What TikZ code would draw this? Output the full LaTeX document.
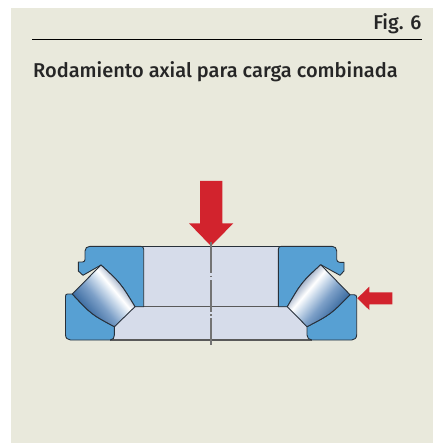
\documentclass[tikz,border=0pt]{standalone}
\usepackage{fontspec}
\setmainfont{Fira Sans}[BoldFont={Fira Sans Medium}]
\definecolor{rollerdark}{RGB}{50,100,155}
\definecolor{rollermid}{RGB}{125,160,200}
\definecolor{rollerlight}{RGB}{205,220,236}
\definecolor{rollergray}{RGB}{130,150,182}
\definecolor{panelbg}{RGB}{233,233,220}
\definecolor{ringblue}{RGB}{87,160,211}
\definecolor{shaftlight}{RGB}{214,220,234}
\definecolor{loadred}{RGB}{210,35,45}
\definecolor{edge}{RGB}{40,48,58}
\pgfdeclarehorizontalshading{rollershade}{100bp}{color(0bp)=(rollerdark); color(25bp)=(rollerdark); color(43bp)=(rollermid); color(55bp)=(rollerlight); color(62bp)=(white); color(75bp)=(rollergray); color(100bp)=(rollergray)}
\tikzset{
  edgeline/.style={draw=edge,line width=0.9pt,line join=round},
  ringpart/.style={edgeline,fill=ringblue},
  loadarrow/.style={fill=loadred,draw=none},
  axisline/.style={draw=black!55,line width=1.1pt},
  titletext/.style={font=\fontsize{20}{24}\selectfont\bfseries,text=black!85,inner sep=0pt}
}
\begin{document}
\begin{tikzpicture}[x=1pt,y=-1pt]
\useasboundingbox (0,0) rectangle (433,443);
\fill[white] (0,0) rectangle (433,443);
\fill[panelbg] (11,8) rectangle (433,443);
\draw[black,line width=0.8pt] (32,39.5) -- (422,39.5);
\node[titletext,anchor=base east] (fig) at (421.5,30) {Fig. 6};
\node[titletext,anchor=base west] (title) at (33,78) {Rodamiento axial para carga combinada};
% inner light parts
\fill[shaftlight] (143.7,246.3) -- (278.3,246.3) -- (278.3,306.7) -- (143.7,306.7) -- cycle;
\fill[shaftlight] (114.4,306.7) -- (307,306.7) -- (307,340) -- (114.4,340) -- cycle;
\draw[edgeline] (140,246.3) -- (282,246.3);
\draw[draw=black!65,line width=0.9pt] (135,306.7) -- (287.3,306.7);
\draw[draw=black!65,line width=1.1pt] (110,340) -- (312,340);
% left rings
\draw[ringpart] (143.7,306.7) -- (143.7,249.3) .. controls (143.7,247.3) and (142.7,246.3) .. (140.7,246.3)
 -- (90,246.3) .. controls (87,246.3) and (85,248.3) .. (85,251) -- (85,259.5) .. controls (85,261) and (84,262) .. (82.5,262)
 -- (78.3,262) -- (78.3,271) -- (83,275.3) -- (101,265) .. controls (120.5,283) .. (135,306.7) -- cycle;
\draw[ringpart] (72.3,294) -- (67.5,294) .. controls (66,294) and (65.5,295) .. (65.5,296.5) -- (65.5,334.5)
 .. controls (65.5,338) and (67.5,340) .. (70.5,340) -- (110,340) .. controls (113,340) and (114.4,338) .. (114.4,335) -- (114.4,326.7)
 .. controls (91.5,314.5) .. (72.3,294) -- cycle;
% right rings
\draw[ringpart] (278.3,306.7) -- (278.3,249.3) .. controls (278.3,247.3) and (279.3,246.3) .. (281.3,246.3)
 -- (332,246.3) .. controls (335,246.3) and (336.7,248.3) .. (336.7,251) -- (336.7,259.5) .. controls (336.7,261) and (338,262.3) .. (339.5,262.3)
 -- (344,262.3) -- (344,271) -- (340,275.3) -- (320.7,264.7) .. controls (301.5,282.5) .. (287.3,306.7) -- cycle;
\draw[ringpart] (350,294.7) -- (354,294.7) .. controls (356,294.7) and (356.7,295.7) .. (356.7,297.5) -- (356.7,334.5)
 .. controls (356.7,338) and (354.7,340) .. (351.7,340) -- (312,340) .. controls (309,340) and (307,338) .. (307,335) -- (307,326.7)
 .. controls (330.5,314.5) .. (350,294.7) -- cycle;
% left roller
\begin{scope}
\clip (101,265) .. controls (120.5,283) .. (135,306.7) -- (114.4,326.7) .. controls (91.5,314.5) .. (72.3,294) -- cycle;
\begin{scope}[transform canvas={shift={(105.5,298.5)},rotate=40}]
\shade[shading=rollershade] (-25,-60) rectangle (25,60);
\end{scope}
\end{scope}
\draw[edgeline] (101,265) .. controls (120.5,283) .. (135,306.7) -- (114.4,326.7) .. controls (91.5,314.5) .. (72.3,294) -- cycle;
% right roller
\begin{scope}
\clip (320.7,264.7) .. controls (301.5,282.5) .. (287.3,306.7) -- (307,326.7) .. controls (330.5,314.5) .. (350,294.7) -- cycle;
\begin{scope}[transform canvas={shift={(317,298.5)},rotate=140}]
\shade[shading=rollershade] (-25,-60) rectangle (25,60);
\end{scope}
\end{scope}
\draw[edgeline] (320.7,264.7) .. controls (301.5,282.5) .. (287.3,306.7) -- (307,326.7) .. controls (330.5,314.5) .. (350,294.7) -- cycle;
% load arrows
\fill[loadarrow] (200,181) -- (222.3,181) -- (222.3,223.3) -- (233.3,223.3) -- (211,246) -- (189,223.3) -- (200,223.3) -- cycle;
\fill[loadarrow] (392.3,292.3) -- (392.3,304.3) -- (369.3,304.3) -- (369.3,310) -- (357.3,298.3) -- (369.3,286.7) -- (369.3,292.3) -- cycle;
% centre axis
\draw[axisline] (211,242) -- (211,272.5) (211,275.5) -- (211,277) (211,280) -- (211,311.5) (211,314) -- (211,315.5) (211,318) -- (211,345);
\end{tikzpicture}
\end{document}
